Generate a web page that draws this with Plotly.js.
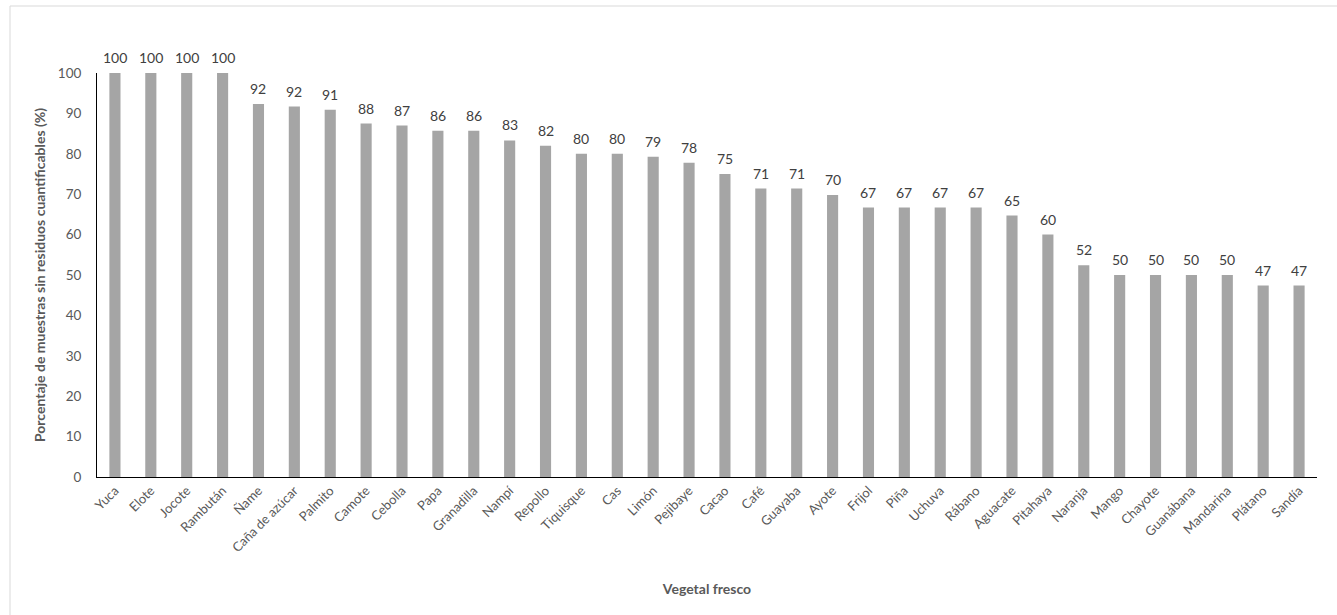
<!DOCTYPE html>
<html>
<head>
<meta charset="utf-8">
<script src="https://cdn.plot.ly/plotly-3.0.1.min.js"></script>
<style>
  html, body { margin: 0; padding: 0; background: #ffffff; }
  #chart { width: 1337px; height: 615px; }
</style>
</head>
<body>
<div id="chart"></div>
<script>
// Fresh produce items
const vegetales = [
  "Yuca", "Elote", "Jocote", "Rambután", "Ñame", "Caña de azúcar", "Palmito",
  "Camote", "Cebolla", "Papa", "Granadilla", "Nampí", "Repollo", "Tiquisque",
  "Cas", "Limón", "Pejibaye", "Cacao", "Café", "Guayaba", "Ayote", "Frijol",
  "Piña", "Uchuva", "Rábano", "Aguacate", "Pitahaya", "Naranja", "Mango",
  "Chayote", "Guanábana", "Mandarina", "Plátano", "Sandía"
];

// Share of samples without quantifiable residues (%)
const porcentajeSinResiduos = [
  100, 100, 100, 100, 92.3, 91.7, 90.9,
  87.5, 87.0, 85.7, 85.7, 83.3, 82.0, 80.0,
  80.0, 79.3, 77.8, 75.0, 71.4, 71.4, 69.8, 66.7,
  66.7, 66.7, 66.7, 64.7, 60.0, 52.4, 50.0,
  50.0, 50.0, 50.0, 47.4, 47.4
];

const yTicks = [0, 10, 20, 30, 40, 50, 60, 70, 80, 90, 100];

const fontFamily = "Lato, 'Open Sans', sans-serif";

const trace = {
  type: "bar",
  x: vegetales,
  y: porcentajeSinResiduos,
  marker: { color: "#a5a5a5" },
  hoverinfo: "x+y"
};

// Value labels above each bar, rounded to whole percent
const valueLabels = vegetales.map((v, i) => ({
  x: v,
  y: porcentajeSinResiduos[i],
  xref: "x",
  yref: "y",
  text: String(Math.round(porcentajeSinResiduos[i])),
  showarrow: false,
  yanchor: "bottom",
  yshift: 5,
  font: { family: fontFamily, size: 14, color: "#404040" }
}));

const layout = {
  width: 1337,
  height: 615,
  margin: { l: 97, r: 20, t: 73, b: 138 },
  paper_bgcolor: "#ffffff",
  plot_bgcolor: "#ffffff",
  bargap: 0.69,
  showlegend: false,
  font: { family: fontFamily, color: "#595959" },
  xaxis: {
    type: "category",
    tickangle: -45,
    tickfont: { family: fontFamily, size: 13, color: "#595959" },
    showline: true,
    linecolor: "#000000",
    linewidth: 1,
    ticks: "",
    showgrid: false,
    zeroline: false,
    automargin: false,
    title: {
      text: "<b>Vegetal fresco</b>",
      font: { family: fontFamily, size: 14, color: "#595959" },
      standoff: 30
    }
  },
  yaxis: {
    range: [0, 100],
    tickvals: yTicks,
    ticktext: yTicks.map(String),
    tickfont: { family: fontFamily, size: 13.5, color: "#595959" },
    showline: true,
    linecolor: "#000000",
    linewidth: 1,
    ticks: "",
    ticklabelstandoff: 12,
    showgrid: false,
    zeroline: false,
    automargin: false,
    title: {
      text: "<b>Porcentaje de muestras sin residuos cuantificables (%)</b>",
      font: { family: fontFamily, size: 14, color: "#595959" },
      standoff: 8
    }
  },
  annotations: valueLabels,
  shapes: [
    {
      type: "rect",
      xref: "paper", yref: "paper",
      x0: (10 - 97) / 1220, x1: 1.1,
      y0: -0.5, y1: (477 - 6) / 404,
      line: { color: "#d9d9d9", width: 1 },
      fillcolor: "rgba(0,0,0,0)",
      layer: "below"
    }
  ]
};

Plotly.newPlot("chart", [trace], layout, { displayModeBar: false, staticPlot: true });
</script>
</body>
</html>
